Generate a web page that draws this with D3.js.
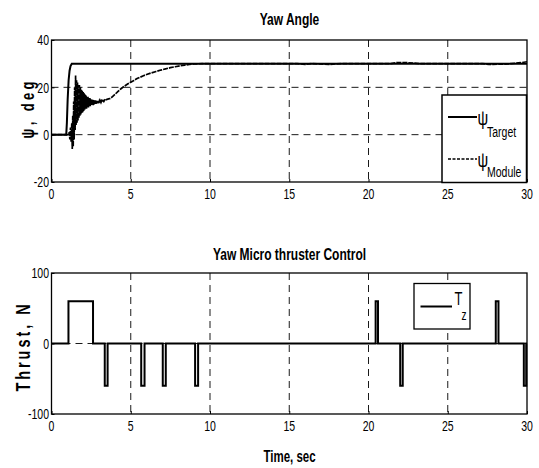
<!DOCTYPE html>
<html><head><meta charset="utf-8">
<script src="https://cdn.jsdelivr.net/npm/d3@7"></script>
<style>
html,body{margin:0;padding:0;background:#fff;}
text{font-family:"Liberation Sans",Arial,sans-serif;fill:#000;}
</style></head>
<body>
<svg id="c" width="539" height="468"></svg>
<script>
// ---------- data ----------
const xTicks = [0, 5, 10, 15, 20, 25, 30];
const yawTicks = [-20, 0, 20, 40];
const thrustTicks = [-100, 0, 100];

// Target yaw angle (time, deg)
const targetT = [0, 0.93, 0.97, 1.02, 1.08, 1.14, 1.2, 1.28, 30];
const targetY = [0, 0, 5, 15, 23, 27, 29, 30, 30];

// Module yaw angle (time, deg)
const moduleT = [0, 1.08, 1.12, 1.16, 1.20, 1.24, 1.28, 1.31, 1.34, 1.37, 1.40, 1.43, 1.46, 1.49, 1.52, 1.55, 1.58,
  1.61, 1.64, 1.67, 1.70, 1.73, 1.76, 1.79, 1.82, 1.85, 1.88, 1.91, 1.94, 1.97, 2.00, 2.03, 2.06, 2.09, 2.12,
  2.15, 2.18, 2.21, 2.24, 2.27, 2.30, 2.33, 2.36, 2.39, 2.42, 2.45, 2.48, 2.51, 2.54, 2.57, 2.60, 2.63, 2.66,
  2.69, 2.72, 2.75, 2.78, 2.81, 2.84, 2.87, 2.90, 2.93, 2.96, 2.99, 3.02, 3.05, 3.08, 3.12, 3.16, 3.20, 3.25,
  3.30, 3.35, 3.40, 3.45, 3.50, 3.6, 3.7, 3.8, 3.9, 4.0, 4.2, 4.4, 4.6, 4.8, 5.0, 5.2, 5.4, 5.6, 5.8, 6.0,
  6.3, 6.6, 6.9, 7.2, 7.5, 7.8, 8.1, 8.4, 8.7, 9.0, 9.5, 15.5, 16.0, 16.4, 17.5, 18.3, 21.4, 21.8, 22.5, 23.3,
  27.2, 27.6, 28.5, 29.0, 29.6, 30];
const moduleY = [0, 0, 1, -2, 3, -3, 5, -6, 8, -5, 14, -2, 20, 2, 25, 4, 23,
  5, 22, 6, 21, 7, 21, 8, 20, 8.5, 19, 9, 18.5, 9.5, 18, 10, 17.5, 10.5, 17,
  11, 16.5, 11, 16, 11.5, 16, 11.5, 15.5, 12, 15.5, 12, 15, 12.5, 15, 12.5, 14.8, 12.5, 14.6,
  12.8, 14.5, 13, 14.5, 13, 14.3, 13.2, 14.3, 13.3, 14.2, 13.4, 14.2, 13.5, 14.2, 13.6, 14.3, 13.8, 14.4,
  14, 14.6, 14.3, 14.8, 14.9, 15.1, 15.3, 15.8, 16.4, 17.0, 18.3, 19.5, 20.5, 21.4, 22.2, 22.9, 23.7, 24.3, 24.9, 25.4,
  26.1, 26.7, 27.3, 27.8, 28.3, 28.7, 29.1, 29.4, 29.7, 29.9, 30, 30, 29.7, 30, 29.7, 30, 30, 30.5, 30.4, 30,
  30, 29.7, 29.8, 30, 30.4, 30.8];

// Yaw micro thruster pulses (start, end, amplitude N)
const pulseStart = [1.07, 3.36, 5.66, 7.02, 9.06, 20.45, 22.0, 28.03, 29.8];
const pulseEnd   = [2.62, 3.54, 5.87, 7.21, 9.25, 20.6, 22.16, 28.2, 29.95];
const pulseAmp   = [60, -60, -60, -60, -60, 60, -60, 60, -60];

// ---------- drawing ----------
const svg = d3.select('#c');
const SY = 1.4;
function txt(g, x, y, s, size, anchor, weight) {
  return g.append('text').attr('transform', `translate(${x},${y}) scale(1,${SY})`)
    .attr('font-size', size).attr('text-anchor', anchor || 'start')
    .attr('font-weight', weight || 'normal').text(s);
}

const x = d3.scaleLinear().domain([0, 30]).range([51.5, 527]);
const yTop = d3.scaleLinear().domain([-20, 40]).range([182, 40]);
const yBot = d3.scaleLinear().domain([-100, 100]).range([414, 273]);

function panel(y, yTicks, gridY) {
  const g = svg.append('g');
  const [y0, y1] = y.range();
  xTicks.filter(t => t > 0 && t < 30).forEach(t => {
    g.append('line').attr('x1', x(t)).attr('x2', x(t)).attr('y1', y1).attr('y2', y0)
      .attr('stroke', '#000').attr('stroke-width', 0.9).attr('stroke-dasharray', '7,5');
  });
  gridY.forEach(v => {
    g.append('line').attr('x1', x(0)).attr('x2', x(30)).attr('y1', y(v)).attr('y2', y(v))
      .attr('stroke', '#000').attr('stroke-width', 0.9).attr('stroke-dasharray', '7,5');
  });
  const ax = g.append('g').attr('transform', `translate(0,${y0})`)
    .call(d3.axisBottom(x).tickValues(xTicks).tickSize(-3).tickFormat(''));
  const ay = g.append('g').attr('transform', `translate(${x(0)},0)`)
    .call(d3.axisLeft(y).tickValues(yTicks).tickSize(-3).tickFormat(''));
  [ax, ay].forEach(a => { a.select('.domain').remove(); a.selectAll('line').attr('stroke', '#000'); });
  xTicks.forEach(t => txt(g, x(t), y0 + 17, String(t), 10.5, 'middle'));
  yTicks.forEach(v => txt(g, 49, y(v) + 5.2, String(v), 10.5, 'end'));
  g.append('rect').attr('x', x(0)).attr('y', y1).attr('width', x(30) - x(0)).attr('height', y0 - y1)
    .attr('fill', 'none').attr('stroke', '#000').attr('stroke-width', 1.3);
  return g;
}

// ---- top panel ----
const gT = panel(yTop, yawTicks, [0, 20]);
txt(svg, 289.5, 25, 'Yaw Angle', 12, 'middle', 'bold');
const lineT = d3.line().x(d => x(d[0])).y(d => yTop(d[1]));
gT.append('path').datum(moduleT.map((t, i) => [t, moduleY[i]])).attr('d', lineT)
  .attr('fill', 'none').attr('stroke', '#000').attr('stroke-width', 1.7).attr('stroke-dasharray', '5,1');
gT.append('path').datum(targetT.map((t, i) => [t, targetY[i]])).attr('d', lineT)
  .attr('fill', 'none').attr('stroke', '#000').attr('stroke-width', 2);

svg.append('text').attr('transform', 'translate(34,110) rotate(-90) scale(0.72,1)')
  .attr('font-size', 18).attr('font-weight', 'bold').attr('text-anchor', 'middle')
  .attr('textLength', 79).attr('lengthAdjust', 'spacing').text('ψ, deg');

// legend top
const lg = svg.append('g');
lg.append('rect').attr('x', 442).attr('y', 95).attr('width', 84.5).attr('height', 87.5)
  .attr('fill', '#fff').attr('stroke', '#000').attr('stroke-width', 1.5);
lg.append('line').attr('x1', 448).attr('x2', 477).attr('y1', 117).attr('y2', 117)
  .attr('stroke', '#000').attr('stroke-width', 2);
lg.append('line').attr('x1', 448).attr('x2', 477).attr('y1', 159).attr('y2', 159)
  .attr('stroke', '#000').attr('stroke-width', 1.5).attr('stroke-dasharray', '3,1.5');
txt(lg, 477.5, 125, 'ψ', 15);
txt(lg, 487, 137, 'Target', 10.5);
txt(lg, 477.5, 167, 'ψ', 15);
txt(lg, 487, 177, 'Module', 10.5);

// ---- bottom panel ----
const gB = panel(yBot, thrustTicks, [0]);
txt(svg, 289.5, 259.5, 'Yaw Micro thruster Control', 12, 'middle', 'bold');
txt(svg, 289.5, 461.5, 'Time, sec', 11.5, 'middle', 'bold');

const thrustPts = [[0, 0]];
pulseStart.forEach((s, i) => {
  thrustPts.push([s, 0], [s, pulseAmp[i]], [pulseEnd[i], pulseAmp[i]], [pulseEnd[i], 0]);
});
thrustPts.push([30, 0]);
gB.append('path').datum(thrustPts)
  .attr('d', d3.line().x(d => x(d[0])).y(d => yBot(d[1])))
  .attr('fill', 'none').attr('stroke', '#000').attr('stroke-width', 2);

svg.append('text').attr('transform', 'translate(30,348) rotate(-90) scale(0.72,1)')
  .attr('font-size', 20).attr('font-weight', 'bold').attr('text-anchor', 'middle')
  .attr('textLength', 121).attr('lengthAdjust', 'spacing').text('Thrust, N');

// legend bottom
const lb = svg.append('g');
lb.append('rect').attr('x', 414).attr('y', 283.5).attr('width', 56).attr('height', 45.5)
  .attr('fill', '#fff').attr('stroke', '#000').attr('stroke-width', 1.3);
lb.append('line').attr('x1', 420.5).attr('x2', 452).attr('y1', 306.5).attr('y2', 306.5)
  .attr('stroke', '#000').attr('stroke-width', 2);
txt(lb, 454.5, 304.5, 'T', 13);
txt(lb, 461.5, 319.5, 'z', 10);
</script>
</body></html>
